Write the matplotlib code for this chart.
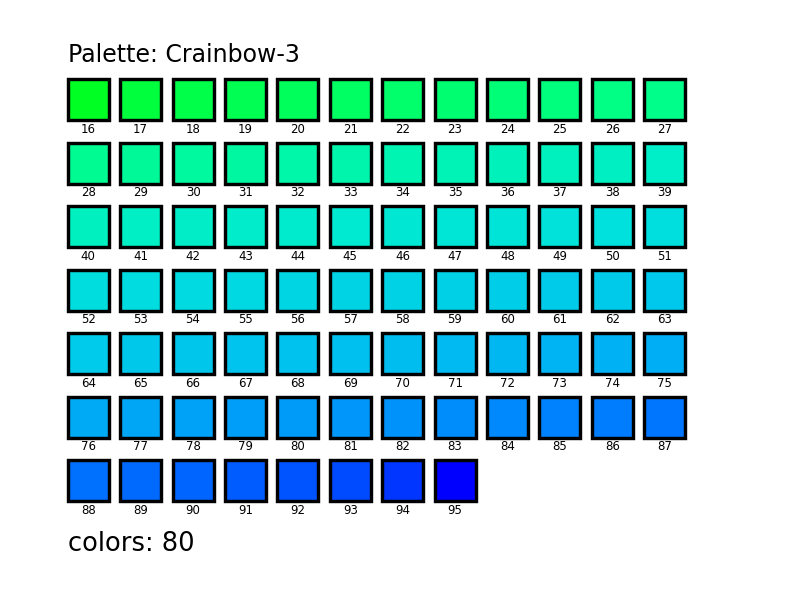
import matplotlib
matplotlib.use("Agg")
import matplotlib.pyplot as plt
from matplotlib.patches import Rectangle

palette_name = "Crainbow-3"
color_indices = list(range(16, 96))
colors = [
    "#00FF22", "#00FF3C", "#00FF48", "#00FF52", "#00FF5A", "#00FF62",
    "#00FF6A", "#00FF70", "#00FF77", "#00FF7D", "#00FF84", "#00FF8A",
    "#00FB92", "#00F998", "#00F89E", "#00F7A2", "#00F6A8", "#00F5AC",
    "#00F4B2", "#00F3B6", "#00F2BA", "#00F0BE", "#00EFC2", "#00EEC8",
    "#00F0C0", "#00EFC4", "#00EDC8", "#00ECCB", "#00EBCE", "#00E9D1",
    "#00E8D4", "#00E6D6", "#00E4D8", "#00E2DA", "#00E0DC", "#00DEDE",
    "#00DDDE", "#00DCDF", "#00DAE0", "#00D8E2", "#00D6E3", "#00D4E4",
    "#00D2E5", "#00D0E6", "#00CEE8", "#00CCE9", "#00CAEA", "#00C8EC",
    "#00CBEA", "#00C8EB", "#00C6EC", "#00C4ED", "#00C2EE", "#00C0EF",
    "#00BDF0", "#00BAF1", "#00B7F2", "#00B4F3", "#00B1F4", "#00AEF5",
    "#00AAF5", "#00A6F6", "#00A2F7", "#009EF8", "#009AF9", "#0096FA",
    "#0092FB", "#008DFC", "#0088FD", "#0082FE", "#007CFF", "#0076FF",
    "#0070FF", "#006AFF", "#0064FF", "#005CFF", "#0054FF", "#004AFF",
    "#0036FF", "#0000FF",
]
ncols = 12

W, H = 792, 612
fig = plt.figure(figsize=(W / 100, H / 100), dpi=100)
ax = fig.add_axes([0, 0, 1, 1])
ax.set_xlim(0, W)
ax.set_ylim(H, 0)
ax.axis("off")

x0, y0 = 66.0, 77.3
dx, dy = 52.4, 63.5
box = 44.5
lw_px = 3.4
lw_pt = lw_px * 72 / 100

for i, (idx, c) in enumerate(zip(color_indices, colors)):
    r, col = divmod(i, ncols)
    x = x0 + col * dx
    y = y0 + r * dy
    ax.add_patch(Rectangle((x + lw_px / 2, y + lw_px / 2), box - lw_px, box - lw_px,
                           facecolor=c, edgecolor="black", linewidth=lw_pt,
                           joinstyle="miter"))
    ax.text(x + box / 2, y + box + 7.5, str(idx), ha="center", va="center",
            fontsize=8.5, color="black")

ax.text(68, 55, f"Palette: {palette_name}", ha="left", va="center",
        fontsize=17, color="black")
ax.text(68, 544, f"colors: {len(colors)}", ha="left", va="center",
        fontsize=18.5, color="black")

fig.savefig("out.png", dpi=100, facecolor="white")
